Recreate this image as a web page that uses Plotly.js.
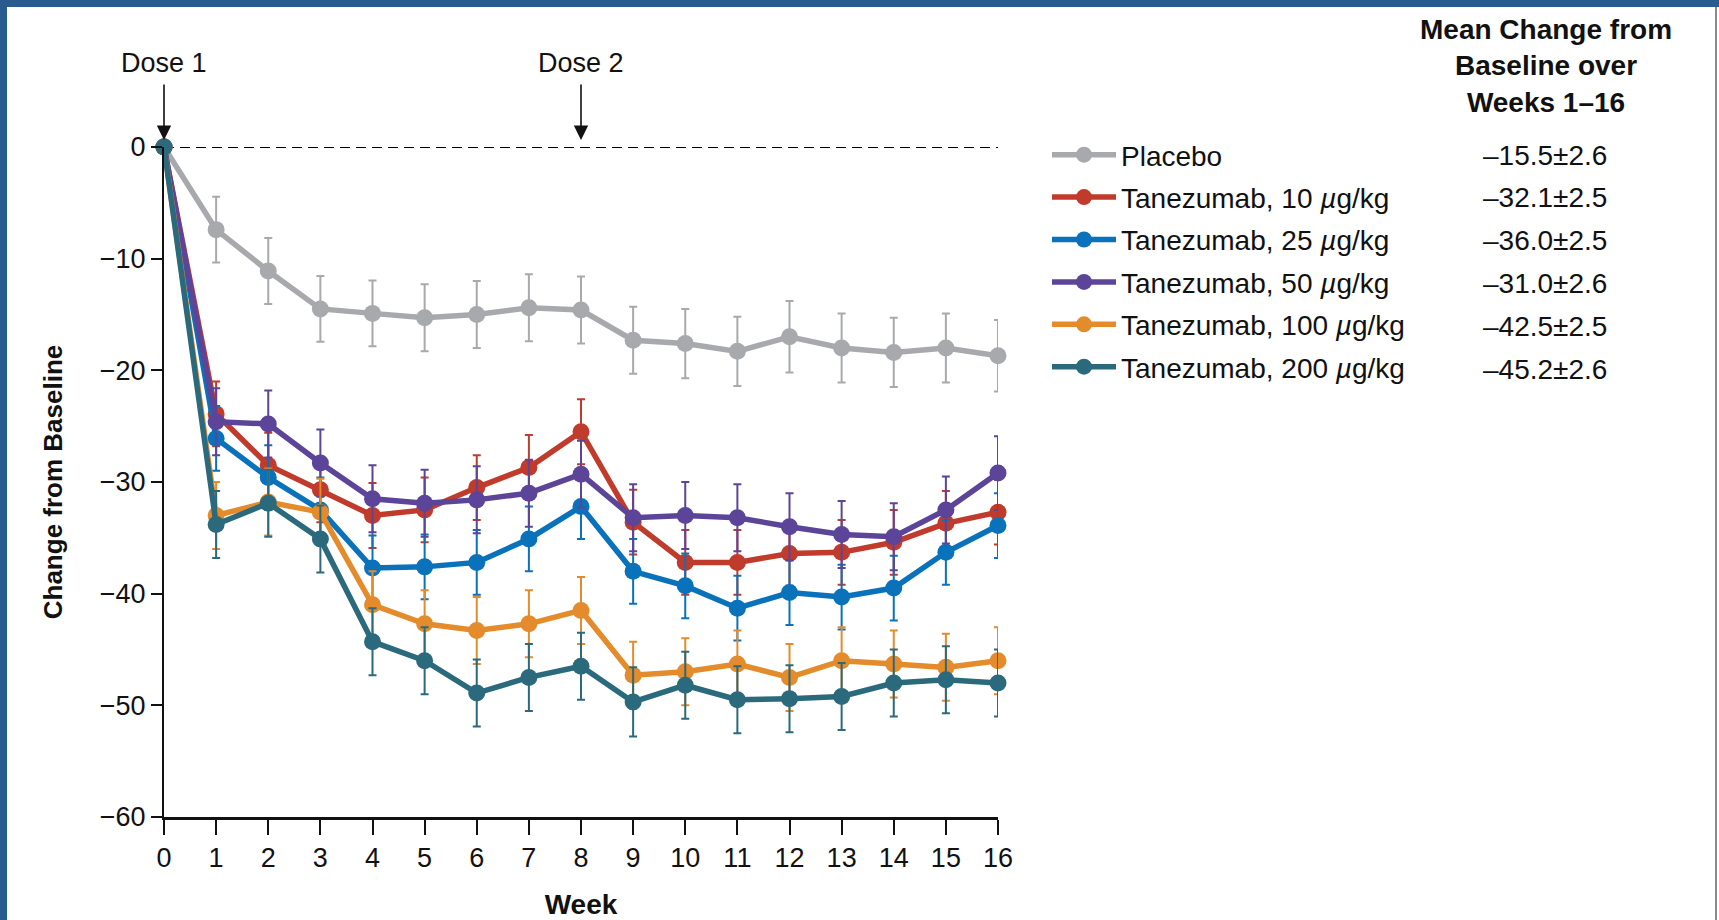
<!DOCTYPE html>
<html>
<head>
<meta charset="utf-8">
<script src="https://cdn.plot.ly/plotly-3.0.1.min.js"></script>
<style>
  html, body { margin: 0; padding: 0; background: #ffffff; }
  #wrap { position: relative; width: 1719px; height: 920px; overflow: hidden; }
  #chart { position: absolute; left: 0; top: 0; width: 1719px; height: 920px; }
  .frame { position: absolute; z-index: 5; }
</style>
</head>
<body>
<div id="wrap">
  <div id="chart"></div>
  <div class="frame" style="left:0;top:0;width:1719px;height:7px;background:#285c8e;"></div>
  <div class="frame" style="left:0;top:0;width:7px;height:920px;background:#285c8e;"></div>
  <div class="frame" style="left:1715px;top:7px;width:2px;height:913px;background:#8a8a8a;"></div>
</div>
<script>
// ---------------- DATA ----------------
const weeks = [0, 1, 2, 3, 4, 5, 6, 7, 8, 9, 10, 11, 12, 13, 14, 15, 16];
const weekTicks = ['0','1','2','3','4','5','6','7','8','9','10','11','12','13','14','15','16'];
const yTickVals = [0, -10, -20, -30, -40, -50, -60];

const seriesNames = ['Placebo', 'Tanezumab, 10 <i>µ</i>g/kg', 'Tanezumab, 25 <i>µ</i>g/kg',
                     'Tanezumab, 50 <i>µ</i>g/kg', 'Tanezumab, 100 <i>µ</i>g/kg', 'Tanezumab, 200 <i>µ</i>g/kg'];
const seriesColors = ['#a7a9ac', '#c03b2b', '#0a72ba', '#5c4499', '#e48b2b', '#2b6a7c'];
const meanChange = ['–15.5±2.6', '–32.1±2.5', '–36.0±2.5', '–31.0±2.6', '–42.5±2.5', '–45.2±2.6'];

const placebo   = [0, -7.4, -11.1, -14.5, -14.9, -15.3, -15.0, -14.4, -14.6, -17.3, -17.6, -18.3, -17.0, -18.0, -18.4, -18.0, -18.7];
const tane10    = [0, -23.9, -28.5, -30.7, -33.0, -32.5, -30.5, -28.7, -25.5, -33.6, -37.2, -37.2, -36.4, -36.3, -35.4, -33.7, -32.7];
const tane25    = [0, -26.1, -29.6, -32.5, -37.7, -37.6, -37.2, -35.1, -32.2, -38.0, -39.3, -41.3, -39.9, -40.3, -39.5, -36.3, -33.9];
const tane50    = [0, -24.6, -24.8, -28.3, -31.5, -31.9, -31.6, -31.0, -29.3, -33.2, -33.0, -33.2, -34.0, -34.7, -34.9, -32.5, -29.2];
const tane100   = [0, -33.0, -31.8, -32.7, -41.0, -42.7, -43.3, -42.7, -41.5, -47.3, -47.0, -46.3, -47.5, -46.0, -46.3, -46.6, -46.0];
const tane200   = [0, -33.8, -31.9, -35.1, -44.3, -46.0, -48.9, -47.5, -46.5, -49.7, -48.2, -49.5, -49.4, -49.2, -48.0, -47.7, -48.0];

const errPlacebo = [0, 2.95, 2.95, 2.95, 2.95, 3.0, 3.0, 3.0, 3.0, 3.0, 3.1, 3.1, 3.2, 3.1, 3.1, 3.1, 3.2];
const err10      = [0, 2.9, 2.9, 2.9, 2.9, 2.9, 2.9, 2.9, 2.9, 2.9, 2.9, 2.9, 2.9, 2.9, 2.9, 2.9, 2.9];
const err25      = [0, 2.9, 2.9, 2.9, 2.9, 2.9, 2.9, 2.9, 2.9, 2.9, 2.9, 2.9, 2.9, 2.9, 2.9, 2.9, 2.9];
const err50      = [0, 3.0, 3.0, 3.0, 3.0, 3.0, 3.0, 3.0, 3.0, 3.0, 3.0, 3.0, 3.0, 3.0, 3.0, 3.0, 3.3];
const err100     = [0, 3.0, 3.0, 3.0, 3.0, 3.0, 3.0, 3.0, 3.0, 3.0, 3.0, 3.0, 3.0, 3.0, 3.0, 3.0, 3.0];
const err200     = [0, 3.0, 3.0, 3.0, 3.0, 3.0, 3.0, 3.0, 3.0, 3.1, 3.0, 3.0, 3.0, 3.0, 3.0, 3.0, 3.0];

const doseWeeks  = [0, 8];
const doseLabels = ['Dose 1', 'Dose 2'];

// ---------------- CHART ----------------
const allY   = [placebo, tane10, tane25, tane50, tane100, tane200];
const allErr = [errPlacebo, err10, err25, err50, err100, err200];

const FONT = 'Liberation Sans, Arial, sans-serif';

const traces = allY.map((ys, i) => ({
  type: 'scatter',
  mode: 'lines+markers',
  x: weeks,
  y: ys,
  name: seriesNames[i],
  legendgroup: 'g' + i,
  line: { color: seriesColors[i], width: 5.5 },
  marker: { color: seriesColors[i], size: 17 },
  error_y: { type: 'data', array: allErr[i], visible: true, color: seriesColors[i], thickness: 2, width: 4 },
  cliponaxis: false,
  hoverinfo: 'x+y+name'
}));

const W = 1719, H = 920;
const M = { l: 164, r: 721, t: 147, b: 103 };
const plotH = H - M.t - M.b;
const plotW = W - M.l - M.r;
const pxToPaperY = py => 1 - (py - M.t) / plotH;
const pxToPaperX = px => (px - M.l) / plotW;

const annotations = [];
// Header for value column
annotations.push({
  xref: 'paper', yref: 'paper', x: pxToPaperX(1546), y: pxToPaperY(66),
  xanchor: 'center', yanchor: 'middle', showarrow: false, align: 'center',
  text: '<b>Mean Change from<br>Baseline over<br>Weeks 1–16</b>',
  font: { family: FONT, size: 28, color: '#111111' }
});
// Value column
meanChange.forEach((t, i) => {
  annotations.push({
    xref: 'paper', yref: 'paper', x: pxToPaperX(1545), y: pxToPaperY(155 + i * 42.8),
    xanchor: 'center', yanchor: 'middle', showarrow: false,
    text: t, font: { family: FONT, size: 28, color: '#111111' }
  });
});
// Dose arrows
doseWeeks.forEach((w, i) => {
  annotations.push({
    xref: 'x', yref: 'y', x: w, y: 0,
    text: doseLabels[i], showarrow: true,
    arrowhead: 2, arrowsize: 1.8, arrowwidth: 1.6, arrowcolor: '#111111',
    ax: 0, ay: -84, standoff: 7, borderpad: 6,
    font: { family: FONT, size: 27, color: '#111111' }
  });
});

const layout = {
  width: W, height: H,
  margin: M,
  paper_bgcolor: '#ffffff',
  plot_bgcolor: '#ffffff',
  font: { family: FONT, size: 27, color: '#111111' },
  showlegend: true,
  legend: {
    x: pxToPaperX(1047), y: pxToPaperY(130), xanchor: 'left', yanchor: 'top',
    bgcolor: 'rgba(0,0,0,0)', borderwidth: 0,
    font: { family: FONT, size: 28, color: '#111111' },
    itemwidth: 64,
    tracegroupgap: 3,
    traceorder: 'grouped'
  },
  xaxis: {
    range: [0, 16],
    tickmode: 'array', tickvals: weeks, ticktext: weekTicks,
    ticks: 'outside', ticklen: 15, tickwidth: 2, tickcolor: '#111111',
    showline: true, linecolor: '#111111', linewidth: 3,
    showgrid: false, zeroline: false,
    tickfont: { family: FONT, size: 27, color: '#111111' },
    title: { text: '<b>Week</b>', font: { family: FONT, size: 28, color: '#111111' }, standoff: 24 },
    fixedrange: true
  },
  yaxis: {
    range: [-60, 0],
    tickmode: 'array', tickvals: yTickVals,
    ticks: 'outside', ticklen: 11, tickwidth: 2, tickcolor: '#111111',
    showline: true, linecolor: '#111111', linewidth: 2,
    showgrid: false, zeroline: false,
    tickfont: { family: FONT, size: 27, color: '#111111' },
    title: { text: '<b>Change from Baseline</b>', font: { family: FONT, size: 26, color: '#111111' }, standoff: 30 },
    fixedrange: true
  },
  shapes: [{
    type: 'line', xref: 'x', yref: 'y', x0: 0, x1: 16, y0: 0, y1: 0,
    line: { color: '#000000', width: 2, dash: '10px,6px' }, layer: 'below'
  }],
  annotations: annotations
};

Plotly.newPlot('chart', traces, layout, { displayModeBar: false, staticPlot: true });
</script>
</body>
</html>
